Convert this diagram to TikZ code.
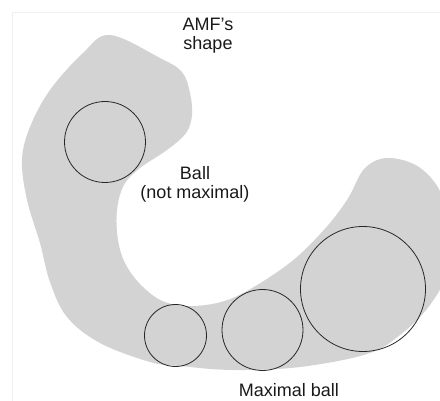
\documentclass[tikz,border=0pt]{standalone}
\usepackage{fontspec}
\setmainfont{Liberation Sans}
\usepackage{xcolor}
\usepackage{tikz}
\usetikzlibrary{positioning, calc}
\definecolor{shapegray}{RGB}{211,211,211}
\tikzset{
  %% Ball inscribed in the shape
  ball/.style={
    circle, draw=black!85, fill=none,
    inner sep=0pt, line width=0.8pt
  },
  %% Label text
  lbl/.style={
    font=\fontsize{18}{19}\selectfont,
    text=black!90, align=center, inner sep=0pt
  },
}

\begin{document}
\begin{tikzpicture}[x=1pt, y=-1pt]

  \useasboundingbox (0,0) rectangle (440,401);

  %% ---- faint frame ----
  \draw[black!6, line width=0.6pt] (12.5,401) -- (12.5,12) -- (440,12);

  %% ---- AMF's shape ----
  \begin{scope}
    \clip (0,0) rectangle (440,401);
    \fill[shapegray] plot[smooth cycle, tension=0.6] coordinates {
      (110,35) (160,58) (182,72) (190,93) (192,115) (186,133)
      (167,150) (140,168) (124,185) (117,210) (118,240) (126,265)
      (143,287) (165,302) (195,306) (235,297) (287,265) (322,232)
      (347,200) (365,168) (390,158) (423,170) (445,205) (446,270)
      (430,305) (400,335) (367,354) (300,367) (233,370) (180,366)
      (150,362) (100,343) (67,317) (50,282) (40,243) (27,200)
      (22,160) (30,127) (50,90) (83,53)
    };
  \end{scope}

  %% ---- Balls ----
  \node[ball, minimum size=81pt]  (b1) at (105,142) {};
  \node[ball, minimum size=62pt]  (b2) at (175.5,335.5) {};
  \node[ball, minimum size=81pt]  (b3) at (262.5,330) {};
  \node[ball, minimum size=125pt] (b4) at (363,289) {};

  %% ---- Labels ----
  \node[lbl] (amf) at (208,36) {AMF's\\shape};
  \node[lbl] (nmax) at (195,184) {Ball\\(not maximal)};
  \node[lbl, anchor=base, text depth=0pt] (maxb) at (289,397) {Maximal ball};

\end{tikzpicture}
\end{document}
